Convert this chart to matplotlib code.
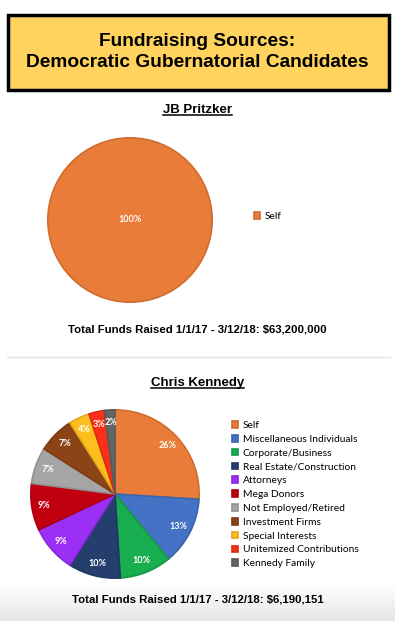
import matplotlib
matplotlib.use('Agg')
import matplotlib.pyplot as plt
import numpy as np
from matplotlib.patches import Rectangle
from matplotlib.lines import Line2D
import matplotlib.colors as mcolors

title = "Fundraising Sources:\nDemocratic Gubernatorial Candidates"

pritzker_name = "JB Pritzker"
pritzker_sources = ["Self"]
pritzker_pct = [100]
pritzker_total = "Total Funds Raised 1/1/17 - 3/12/18: $63,200,000"

kennedy_name = "Chris Kennedy"
kennedy_sources = ["Self", "Miscellaneous Individuals", "Corporate/Business",
                   "Real Estate/Construction", "Attorneys", "Mega Donors",
                   "Not Employed/Retired", "Investment Firms", "Special Interests",
                   "Unitemized Contributions", "Kennedy Family"]
kennedy_pct = [26, 13, 10, 10, 9, 9, 7, 7, 4, 3, 2]
kennedy_total = "Total Funds Raised 1/1/17 - 3/12/18: $6,190,151"

colors = ["#E97C38", "#4472C4", "#18AD4F", "#243F6E", "#9B2FF5", "#C00010",
          "#A5A5A5", "#8C4416", "#FDBF1E", "#FA3019", "#656565"]

W, H = 395, 621
fig = plt.figure(figsize=(W / 100, H / 100), dpi=100)

def fx(x):
    return x / W

def fy(y):
    return 1 - y / H

# bottom grey fade
bg = fig.add_axes([0, 0, 1, fy(585)], zorder=-5)
grad = np.linspace(0, 1, 100).reshape(-1, 1)
bg.imshow(grad, aspect='auto', cmap=mcolors.LinearSegmentedColormap.from_list('g', ['#e6e6e6', '#ffffff']),
          extent=[0, 1, 0, 1], origin='lower')
bg.axis('off')

# title box
fig.patches.append(Rectangle((fx(8), fy(90)), fx(381), (90 - 15) / H, transform=fig.transFigure,
                             facecolor="#FFD35E", edgecolor="black", linewidth=2.5))
fig.text(0.5, fy(52), title, ha='center', va='center', fontsize=13.8, fontweight='bold',
         family='Liberation Sans', linespacing=1.25)

heads = []
heads.append(fig.text(0.5, fy(110), pritzker_name, ha='center', va='center', fontsize=9.5,
                      fontweight='bold', family='Liberation Sans'))
heads.append(fig.text(0.5, fy(383), kennedy_name, ha='center', va='center', fontsize=9.5,
                      fontweight='bold', family='Liberation Sans'))

fig.text(0.5, fy(329), pritzker_total, ha='center', va='center', fontsize=8.2,
         fontweight='bold', family='Liberation Sans')
fig.text(0.5, fy(600), kennedy_total, ha='center', va='center', fontsize=8.2,
         fontweight='bold', family='Liberation Sans')

# separator
fig.add_artist(Line2D([fx(7), fx(390)], [fy(357), fy(357)], color="#e3e3e3", lw=1))


def draw_pie(cx, cy, r, vals, cols, pctdist):
    ax = fig.add_axes([fx(cx - r), fy(cy + r), 2 * r / W, 2 * r / H])
    wedges, texts, autotexts = ax.pie(vals, colors=cols, startangle=90, counterclock=False,
                                      autopct='%d%%', pctdistance=pctdist,
                                      wedgeprops=dict(linewidth=1.2),
                                      textprops=dict(color='white', fontsize=6.5,
                                                     fontweight='bold', family='Lato'))
    for w, c in zip(wedges, cols):
        rgb = np.array(mcolors.to_rgb(c)) * 0.88
        w.set_edgecolor(rgb)
    ax.set_xlim(-1.01, 1.01)
    ax.set_ylim(-1.01, 1.01)
    ax.set_aspect('auto')
    ax.axis('off')
    return wedges


w1 = draw_pie(130, 220, 83, pritzker_pct, colors[:1], 0.0)
w2 = draw_pie(115, 494, 85, kennedy_pct, colors, 0.85)

leg_kw = dict(loc='upper left', frameon=False, borderaxespad=0, borderpad=0,
              handlelength=0.62, handleheight=0.62, handletextpad=0.45,
              labelspacing=0.47, prop=dict(family='Lato', size=7.4))
fig.legend(w1, pritzker_sources, bbox_to_anchor=(fx(254), fy(212)), **leg_kw)
fig.legend(w2, kennedy_sources, bbox_to_anchor=(fx(232), fy(421)), **leg_kw)

# underline the candidate names
fig.canvas.draw()
r = fig.canvas.get_renderer()
for t in heads:
    bb = t.get_window_extent(r).transformed(fig.transFigure.inverted())
    fig.add_artist(Line2D([bb.x0, bb.x1], [bb.y0 + 0.001, bb.y0 + 0.001], color='black', lw=1.1))

fig.savefig("out.png", dpi=100)
